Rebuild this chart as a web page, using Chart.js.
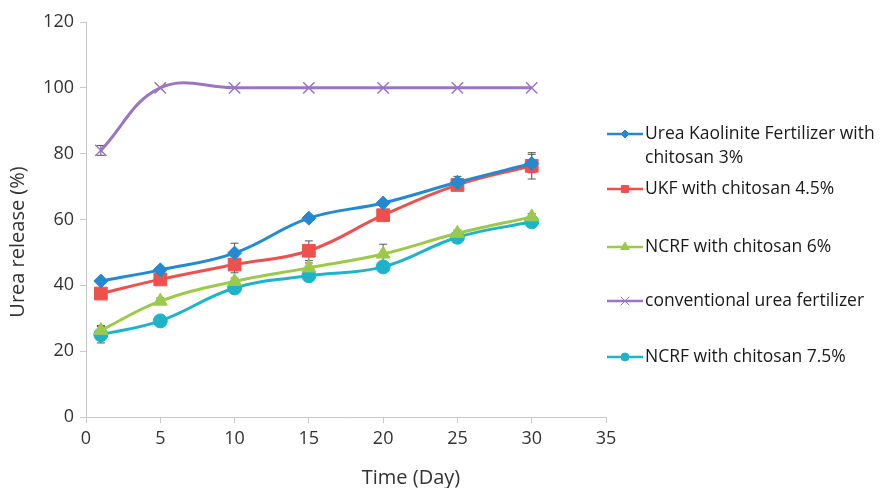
<!DOCTYPE html>
<html>
<head>
<meta charset="utf-8">
<script src="https://cdn.jsdelivr.net/npm/chart.js@4.4.1/dist/chart.umd.min.js"></script>
<style>
  html, body { margin: 0; padding: 0; background: #fff; }
  #wrap { width: 883px; height: 488px; position: relative; }
</style>
</head>
<body>
<div id="wrap"><canvas id="chart" width="883" height="488"></canvas></div>
<script>
// data
const days = [1, 5, 10, 15, 20, 25, 30];
const ukf3 = [41.3, 44.7, 49.8, 60.4, 65.0, 71.3, 77.0];
const ukf45 = [37.5, 41.8, 46.3, 50.5, 61.3, 70.5, 76.3];
const ncrf6 = [26.3, 35.2, 41.2, 45.3, 49.5, 55.8, 60.8];
const conventional = [81.0, 100, 100, 100, 100, 100, 100];
const ncrf75 = [25.0, 29.2, 39.2, 42.9, 45.6, 54.6, 59.3];

const ukf3Err = [0.8, 0.8, 3.0, 1.0, 0.8, 1.8, 2.8];
const ukf45Err = [0.8, 0.8, 2.5, 3.0, 0.8, 1.0, 4.0];
const ncrf6Err = [1.5, 1.0, 1.0, 1.5, 3.0, 1.0, 1.0];
const convErr = [1.5, 0, 0, 0, 0, 0, 0];
const ncrf75Err = [2.5, 0.8, 1.0, 0.8, 0.8, 0.8, 0.8];

const xTicks = [0, 5, 10, 15, 20, 25, 30, 35];
const yTicks = [0, 20, 40, 60, 80, 100, 120];

const labels = [
  ['Urea Kaolinite Fertilizer with', 'chitosan 3%'],
  ['UKF with chitosan 4.5%'],
  ['NCRF with chitosan 6%'],
  ['conventional urea fertilizer'],
  ['NCRF with chitosan 7.5%']
];

function pts(vals) {
  return days.map((d, i) => ({ x: d, y: vals[i] }));
}

const FONT = '"Open Sans", "DejaVu Sans", sans-serif';

// error bars, drawn under the markers
const errorBars = {
  id: 'errorBars',
  beforeDatasetsDraw(chart) {
    const ctx = chart.ctx;
    const y = chart.scales.y;
    ctx.save();
    ctx.strokeStyle = '#555';
    ctx.lineWidth = 1;
    chart.data.datasets.forEach((ds, di) => {
      if (!ds.errors) return;
      const meta = chart.getDatasetMeta(di);
      meta.data.forEach((pt, i) => {
        const e = ds.errors[i];
        if (!e) return;
        const top = y.getPixelForValue(ds.data[i].y + e);
        const bot = y.getPixelForValue(ds.data[i].y - e);
        ctx.beginPath();
        ctx.moveTo(pt.x, top); ctx.lineTo(pt.x, bot);
        ctx.moveTo(pt.x - 4, top); ctx.lineTo(pt.x + 4, top);
        ctx.moveTo(pt.x - 4, bot); ctx.lineTo(pt.x + 4, bot);
        ctx.stroke();
      });
    });
    ctx.restore();
  }
};

// side legend + axis titles
const sideLegend = {
  id: 'sideLegend',
  afterDraw(chart) {
    const ctx = chart.ctx;
    const rowsY = [134, 189, 247, 301, 357];
    ctx.save();
    ctx.font = '17.5px ' + FONT;
    ctx.textBaseline = 'middle';
    chart.data.datasets.forEach((ds, i) => {
      const yy = rowsY[i];
      ctx.strokeStyle = ds.borderColor;
      ctx.fillStyle = ds.borderColor;
      ctx.lineWidth = 2.5;
      ctx.beginPath();
      ctx.moveTo(607, yy); ctx.lineTo(643, yy);
      ctx.stroke();
      ctx.lineWidth = 1;
      Chart.helpers.drawPoint(ctx, {
        pointStyle: ds.pointStyle,
        radius: ds.legendRadius,
        borderWidth: 1
      }, 625, yy);
      ctx.fillStyle = '#1a1a1a';
      labels[i].forEach((line, k) => {
        ctx.fillText(line, 645, yy + k * 24);
      });
    });
    // axis titles
    ctx.fillStyle = '#333';
    ctx.font = '20px ' + FONT;
    ctx.textAlign = 'center';
    ctx.fillText('Time (Day)', 411, 478);
    ctx.translate(18, 242);
    ctx.rotate(-Math.PI / 2);
    ctx.fillText('Urea release (%)', 0, 0);
    ctx.restore();
  }
};

function series(label, vals, errs, color, style, radius, legendRadius) {
  return {
    label: label,
    data: pts(vals),
    errors: errs,
    borderColor: color,
    backgroundColor: color,
    pointBackgroundColor: color,
    pointBorderColor: color,
    pointStyle: style,
    pointRadius: radius,
    legendRadius: legendRadius,
    pointBorderWidth: style === 'crossRot' ? 1.5 : 1,
    borderWidth: 3,
    tension: 0.4,
    fill: false
  };
}

new Chart(document.getElementById('chart'), {
  type: 'line',
  data: {
    datasets: [
      series(labels[0].join(' '), ukf3, ukf3Err, '#2389d2', 'rectRot', 7, 4),
      series(labels[1].join(' '), ukf45, ukf45Err, '#ee514d', 'rect', 9, 5),
      series(labels[2].join(' '), ncrf6, ncrf6Err, '#9cc94a', 'triangle', 8, 5),
      series(labels[3].join(' '), conventional, convErr, '#9b74c4', 'crossRot', 8, 6),
      series(labels[4].join(' '), ncrf75, ncrf75Err, '#1db4ca', 'circle', 7, 4)
    ]
  },
  options: {
    responsive: false,
    animation: false,
    layout: { padding: { left: 0, right: 277, top: 22, bottom: 0 } },
    plugins: {
      legend: { display: false },
      tooltip: { enabled: false }
    },
    scales: {
      x: {
        type: 'linear',
        min: 0, max: 35,
        afterBuildTicks(scale) { scale.ticks = xTicks.map(v => ({ value: v })); },
        afterFit(scale) { scale.height = 71; },
        grid: { drawOnChartArea: false, drawTicks: true, tickLength: 6, color: '#c8c8c8' },
        border: { color: '#c8c8c8', width: 1 },
        ticks: { color: '#333', font: { size: 18, family: FONT }, padding: 5 }
      },
      y: {
        min: 0, max: 120,
        afterBuildTicks(scale) { scale.ticks = yTicks.map(v => ({ value: v })); },
        afterFit(scale) { scale.width = 86; },
        grid: { drawOnChartArea: false, drawTicks: true, tickLength: 6, color: '#c8c8c8' },
        border: { color: '#c8c8c8', width: 1 },
        ticks: { color: '#333', font: { size: 18, family: FONT }, padding: 6 }
      }
    }
  },
  plugins: [errorBars, sideLegend]
});
</script>
</body>
</html>
